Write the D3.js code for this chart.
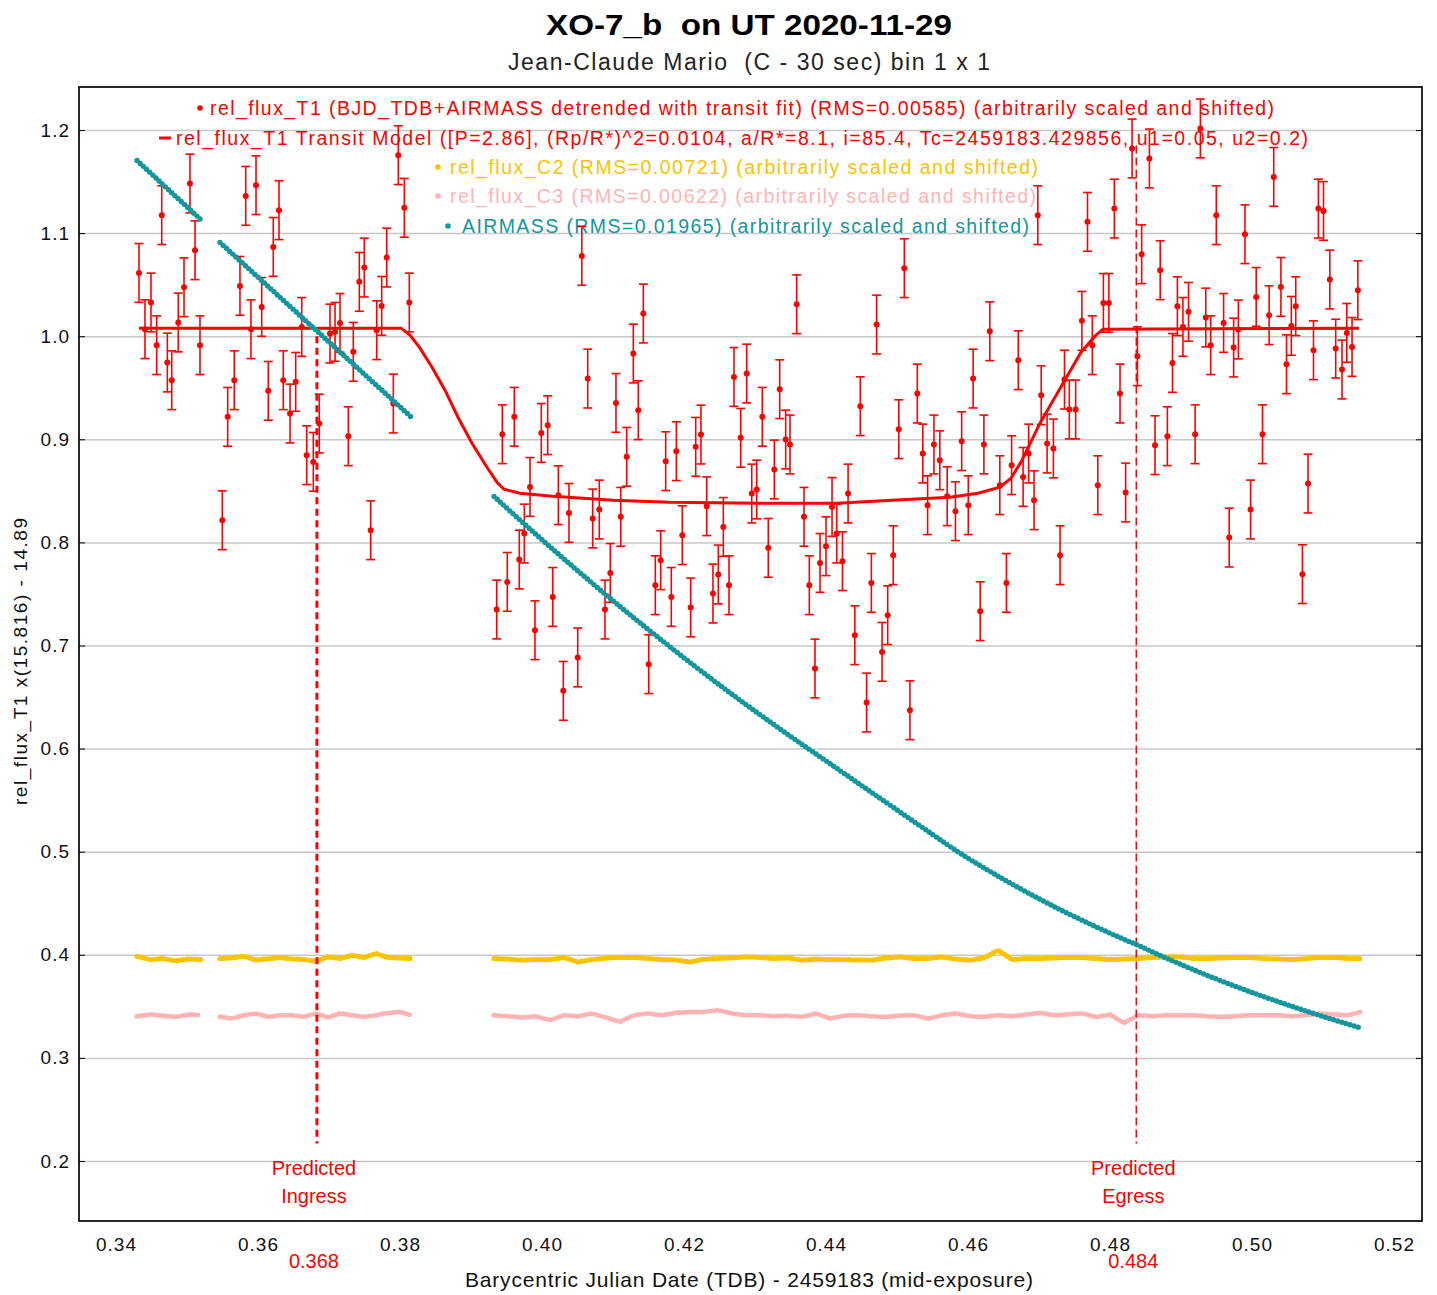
<!DOCTYPE html>
<html>
<head>
<meta charset="utf-8">
<script src="https://cdn.jsdelivr.net/npm/d3@7"></script>
<style>
  body { margin: 0; background: #fff; }
  svg { display: block; font-family: "Liberation Sans", Arial, sans-serif; }
</style>
</head>
<body>
<svg id="chart"></svg>
<script>
// ---- data ----
var xTicks = [0.34, 0.36, 0.38, 0.40, 0.42, 0.44, 0.46, 0.48, 0.50, 0.52];
var yTicks = [0.2, 0.3, 0.4, 0.5, 0.6, 0.7, 0.8, 0.9, 1.0, 1.1, 1.2];

var ingressT = 0.3683, egressT = 0.4837;
var ingressLabel = "0.368", egressLabel = "0.484";

// rel_flux_T1 [BJD - 2459183, scaled flux]
var T1_ERR = 0.0285;
var t1 = [
  [0.34324,1.0614],[0.34408,1.0068],[0.34493,1.0327],[0.34573,0.9913],[0.34644,1.1174],[0.34723,0.9745],
  [0.34785,0.9573],[0.34877,1.0133],[0.34958,1.0475],[0.35042,1.1481],[0.35113,1.0834],[0.35183,0.9913],
  [0.35497,0.8215],[0.35573,0.9218],[0.35666,0.9573],[0.35746,1.0488],[0.35827,1.1361],[0.35901,1.0068],
  [0.35972,1.1465],[0.36052,1.0284],[0.36145,0.9470],[0.36215,1.0866],[0.36296,1.1222],[0.36356,0.9573],
  [0.36451,0.9250],[0.36531,0.9557],[0.36616,1.0090],[0.36686,0.8846],[0.36779,0.8781],[0.36863,0.9153],
  [0.37014,1.0026],[0.37085,1.0042],[0.37155,1.0129],[0.37272,0.9030],[0.37342,0.9848],[0.37427,1.0527],
  [0.37497,1.0666],[0.37587,0.8118],[0.37672,1.0058],[0.37742,1.0294],[0.37813,1.0763],[0.37906,0.9347],
  [0.37976,1.1756],[0.38061,1.1245],[0.38131,1.0327],
  [0.39362,0.7349],[0.39441,0.9049],[0.39511,0.7617],[0.39610,0.9218],[0.39680,0.7834],[0.39751,0.8086],
  [0.39831,0.8538],[0.39901,0.7148],[0.39990,0.9062],[0.40080,0.9137],[0.40151,0.7471],[0.40230,0.8458],
  [0.40300,0.6560],[0.40380,0.8286],[0.40503,0.6884],[0.40561,1.0779],[0.40644,0.9589],[0.40714,0.8232],
  [0.40807,0.8319],[0.40887,0.7349],[0.40962,0.7704],[0.41042,0.9353],[0.41109,0.8248],[0.41193,0.8830],
  [0.41286,0.9832],[0.41356,0.9282],[0.41427,1.0220],[0.41503,0.6819],[0.41596,0.7585],[0.41672,0.7827],
  [0.41742,0.8788],[0.41821,0.7471],[0.41892,0.8885],[0.41976,0.8070],[0.42094,0.7369],[0.42165,0.8927],
  [0.42239,0.9046],[0.42320,0.8351],[0.42408,0.7504],[0.42483,0.7689],[0.42554,0.8150],[0.42634,0.7585],
  [0.42704,0.9605],[0.42799,0.9014],[0.42883,0.9638],[0.42954,0.8474],[0.43024,0.8513],[0.43103,0.9218],
  [0.43187,0.7947],[0.43272,0.8707],[0.43348,0.9486],[0.43432,0.8998],[0.43493,0.8950],[0.43587,1.0310],
  [0.43690,0.8248],[0.43765,0.7585],[0.43845,0.6777],[0.43916,0.7801],[0.44000,0.7963],[0.44085,0.8344],
  [0.44151,0.8086],[0.44232,0.7818],[0.44311,0.8474],[0.44406,0.7100],[0.44483,0.9321],[0.44572,0.6447],
  [0.44639,0.7607],[0.44713,1.0113],[0.44790,0.6938],[0.44869,0.7294],[0.44947,0.7876],[0.45025,0.9098],
  [0.45103,1.0660],[0.45182,0.6372],[0.45286,0.9444],[0.45363,0.8862],[0.45431,0.8361],[0.45520,0.8950],
  [0.45603,0.8797],[0.45707,0.8448],[0.45823,0.8303],[0.45911,0.8982],[0.46004,0.8361],[0.46072,0.9589],
  [0.46172,0.7333],[0.46224,0.8950],[0.46307,1.0048],[0.46448,0.8555],[0.46541,0.7607],[0.46614,0.8749],
  [0.46708,0.9767],[0.46776,0.8635],[0.46854,0.8862],[0.46930,0.8409],[0.46983,1.1174],[0.47031,0.9428],
  [0.47114,0.8959],[0.47203,0.8911],[0.47297,0.7876],[0.47359,0.9579],[0.47427,0.9289],[0.47516,0.9289],
  [0.47604,1.0149],[0.47683,1.1109],[0.47751,0.9913],[0.47828,0.8555],[0.47907,1.0323],[0.47984,1.0323],
  [0.48061,1.1238],[0.48141,0.9444],[0.48220,0.8484],[0.48311,1.1821],[0.48386,0.9806],[0.48446,1.0795],
  [0.48555,1.1724],[0.48634,0.8943],[0.48707,1.0640],[0.48808,0.9030],[0.48880,0.9741],[0.48949,1.0291],
  [0.49027,1.0090],[0.49106,1.0236],[0.49199,0.9049],[0.49273,1.2015],[0.49349,1.0181],[0.49418,0.9913],
  [0.49497,1.1174],[0.49600,1.0129],[0.49679,0.8047],[0.49741,0.9890],[0.49808,1.0065],[0.49901,1.0989],
  [0.49980,0.8319],[0.50059,1.0381],[0.50148,0.9049],[0.50241,1.0204],[0.50306,1.1545],[0.50407,1.0478],
  [0.50486,0.9728],[0.50554,1.0100],[0.50616,1.0291],[0.50710,0.7692],[0.50789,0.8571],[0.50866,0.9864],
  [0.50935,1.1238],[0.51007,1.1215],[0.51096,1.0550],[0.51179,0.9880],[0.51268,0.9677],[0.51335,1.0032],
  [0.51409,0.9896],[0.51491,1.0446]
];

// transit model curve
var model = [
  [0.34324,1.0078],[0.38014,1.0078],[0.38141,1.0010],[0.38282,0.9884],[0.38451,0.9699],[0.38634,0.9476],
  [0.38817,0.9214],[0.39014,0.8962],[0.39225,0.8729],[0.39366,0.8584],[0.39465,0.8516],[0.39690,0.8477],
  [0.40155,0.8448],[0.41000,0.8409],[0.41803,0.8390],[0.43070,0.8380],[0.44155,0.8380],[0.44930,0.8409],
  [0.45746,0.8438],[0.46141,0.8477],[0.46451,0.8535],[0.46606,0.8623],[0.46761,0.8797],[0.47014,0.9156],
  [0.47282,0.9476],[0.47592,0.9845],[0.47803,1.0010],[0.47901,1.0068],[0.51507,1.0078]
];

// comparison stars and airmass, read at these times
var refTime = [
  0.34296,0.34479,0.34662,0.34845,0.35028,0.35197,
  0.35465,0.35634,0.35803,0.35972,0.36141,0.36310,0.36479,0.36648,0.36817,0.36986,0.37155,0.37324,
  0.37493,0.37662,0.37831,0.38000,0.38155,
  0.39324,0.39521,0.39718,0.39915,0.40113,0.40310,0.40507,0.40704,0.40901,0.41099,0.41296,0.41493,
  0.41690,0.41887,0.42085,0.42282,0.42479,0.42676,0.42873,0.43070,0.43268,0.43465,0.43662,0.43859,
  0.44056,0.44254,0.44451,0.44648,0.44845,0.45042,0.45239,0.45437,0.45634,0.45831,0.46028,0.46225,
  0.46423,0.46620,0.46817,0.47014,0.47211,0.47408,0.47606,0.47803,0.48000,0.48197,0.48394,0.48592,
  0.48789,0.48986,0.49183,0.49380,0.49577,0.49775,0.49972,0.50169,0.50366,0.50563,0.50761,0.50958,
  0.51155,0.51352,0.51521
];
var c2Flux = [
  0.3986,0.3954,0.3964,0.3941,0.3960,0.3954,
  0.3964,0.3970,0.3986,0.3950,0.3962,0.3974,0.3960,0.3954,0.3938,0.3980,0.3964,0.3996,
  0.3974,0.4013,0.3974,0.3968,0.3964,
  0.3964,0.3958,0.3948,0.3954,0.3954,0.3974,0.3931,0.3954,0.3968,0.3974,0.3974,0.3964,
  0.3954,0.3950,0.3931,0.3958,0.3964,0.3970,0.3980,0.3974,0.3964,0.3970,0.3948,0.3958,
  0.3954,0.3954,0.3950,0.3948,0.3970,0.3980,0.3964,0.3964,0.3980,0.3958,0.3948,0.3970,
  0.4045,0.3954,0.3964,0.3964,0.3970,0.3974,0.3974,0.3964,0.3954,0.3960,0.3964,0.3974,
  0.3980,0.3980,0.3964,0.3964,0.3970,0.3974,0.3974,0.3964,0.3960,0.3954,0.3964,0.3974,
  0.3974,0.3964,0.3964
];
var c3Flux = [
  0.3404,0.3421,0.3410,0.3398,0.3421,0.3414,
  0.3398,0.3382,0.3414,0.3431,0.3398,0.3414,0.3414,0.3398,0.3431,0.3392,0.3431,0.3414,
  0.3398,0.3414,0.3437,0.3446,0.3414,
  0.3414,0.3404,0.3392,0.3404,0.3366,0.3414,0.3404,0.3431,0.3392,0.3350,0.3414,0.3431,
  0.3414,0.3437,0.3446,0.3446,0.3463,0.3431,0.3414,0.3414,0.3404,0.3410,0.3398,0.3431,
  0.3382,0.3410,0.3414,0.3404,0.3398,0.3410,0.3414,0.3382,0.3414,0.3431,0.3404,0.3398,
  0.3414,0.3404,0.3420,0.3437,0.3414,0.3421,0.3431,0.3398,0.3420,0.3340,0.3414,0.3404,
  0.3414,0.3410,0.3414,0.3404,0.3398,0.3404,0.3414,0.3414,0.3414,0.3404,0.3414,0.3431,
  0.3421,0.3414,0.3446
];
var airmass = [
  1.1704,1.1588,1.1470,1.1353,1.1237,1.1128,
  1.0909,1.0802,1.0696,1.0590,1.0484,1.0377,1.0272,1.0165,1.0059,0.9953,0.9846,0.9740,
  0.9634,0.9528,0.9422,0.9315,0.9217,
  0.8446,0.8322,0.8199,0.8078,0.7957,0.7839,0.7722,0.7606,0.7492,0.7378,0.7267,0.7157,
  0.7049,0.6941,0.6835,0.6731,0.6628,0.6527,0.6427,0.6329,0.6232,0.6136,0.6041,0.5948,
  0.5854,0.5760,0.5666,0.5572,0.5479,0.5385,0.5291,0.5198,0.5104,0.5011,0.4924,0.4843,
  0.4763,0.4686,0.4611,0.4538,0.4468,0.4400,0.4335,0.4271,0.4209,0.4150,0.4093,0.4030,
  0.3969,0.3910,0.3853,0.3797,0.3744,0.3692,0.3642,0.3593,0.3546,0.3500,0.3455,0.3411,
  0.3368,0.3327,0.3293
];

var legendText = [
  "rel_flux_T1 (BJD_TDB+AIRMASS detrended with transit fit) (RMS=0.00585) (arbitrarily scaled and shifted)",
  "rel_flux_T1 Transit Model ([P=2.86], (Rp/R*)^2=0.0104, a/R*=8.1, i=85.4, Tc=2459183.429856, u1=0.05, u2=0.2)",
  "rel_flux_C2 (RMS=0.00721) (arbitrarily scaled and shifted)",
  "rel_flux_C3 (RMS=0.00622) (arbitrarily scaled and shifted)",
  "AIRMASS (RMS=0.01965) (arbitrarily scaled and shifted)"
];

// ---- layout ----
var W = 1437, H = 1295;
var frame = {left: 79, top: 87, right: 1422, bottom: 1221};
var RED = "#ff0000", C2COL = "#f9c300", C3COL = "#ffb3b3", TEAL = "#13969c";

var x = d3.scaleLinear().domain([0.34, 0.52]).range([116, 1394]);
var y = d3.scaleLinear().domain([0.2, 1.2]).range([1161, 130]);

var svg = d3.select("#chart").attr("width", W).attr("height", H);

// title
svg.append("text")
    .attr("x", 546).attr("y", 35)
    .attr("textLength", 406).attr("lengthAdjust", "spacingAndGlyphs")
    .style("white-space", "pre")
    .style("font-size", "29px").style("font-weight", "bold")
    .text("XO-7_b  on UT 2020-11-29");

svg.append("text")
    .attr("x", 508).attr("y", 70)
    .attr("textLength", 482).attr("lengthAdjust", "spacing")
    .style("white-space", "pre")
    .style("font-size", "23px").style("fill", "#222")
    .text("Jean-Claude Mario  (C - 30 sec) bin 1 x 1");

// grid lines
svg.append("g")
    .attr("transform", "translate(" + frame.left + ",0)")
    .call(d3.axisLeft(y).tickValues(yTicks).tickSize(-(frame.right - frame.left)).tickFormat(""))
    .call(function(g) { g.select(".domain").remove(); })
    .selectAll("line").attr("stroke", "#c8c8c8").attr("stroke-width", 1.5);

// y tick labels
svg.append("g")
    .attr("transform", "translate(" + frame.left + ",0)")
    .call(d3.axisLeft(y).tickValues(yTicks).tickSize(0).tickPadding(9).tickFormat(d3.format(".1f")))
    .call(function(g) { g.select(".domain").remove(); })
    .selectAll("text").style("font-size", "19px").style("font-family", "Liberation Sans, Arial, sans-serif")
    .attr("fill", "#111").attr("letter-spacing", "1px");

// inner tick marks on both vertical edges
svg.append("g")
    .attr("transform", "translate(" + frame.left + ",0)")
    .call(d3.axisRight(y).tickValues(yTicks).tickSize(6).tickFormat(""))
    .call(function(g) { g.select(".domain").remove(); });
svg.append("g")
    .attr("transform", "translate(" + frame.right + ",0)")
    .call(d3.axisLeft(y).tickValues(yTicks).tickSize(6).tickFormat(""))
    .call(function(g) { g.select(".domain").remove(); });

// x tick labels
svg.append("g")
    .attr("transform", "translate(0," + frame.bottom + ")")
    .call(d3.axisBottom(x).tickValues(xTicks).tickSize(0).tickPadding(17).tickFormat(d3.format(".2f")))
    .call(function(g) { g.select(".domain").remove(); })
    .selectAll("text").style("font-size", "19px").style("font-family", "Liberation Sans, Arial, sans-serif")
    .attr("fill", "#111").attr("letter-spacing", "1px");

// axis titles
svg.append("text")
    .attr("x", 465).attr("y", 1287)
    .attr("textLength", 568).attr("lengthAdjust", "spacing")
    .style("font-size", "21px").style("fill", "#111")
    .text("Barycentric Julian Date (TDB) - 2459183 (mid-exposure)");

svg.append("text")
    .attr("transform", "translate(27,805) rotate(-90)")
    .attr("textLength", 287).attr("lengthAdjust", "spacing")
    .style("font-size", "19px").style("fill", "#111")
    .text("rel_flux_T1 x(15.816) - 14.89");

// legend
var legendRows = [
  {y: 108, tx: 210, len: 1064, col: RED, mark: "dot", mx: 200},
  {y: 138, tx: 176, len: 1132, col: RED, mark: "bar", mx: 159},
  {y: 167, tx: 450, len: 588, col: C2COL, mark: "dot", mx: 438},
  {y: 196, tx: 450, len: 586, col: C3COL, mark: "dot", mx: 438},
  {y: 226, tx: 462, len: 567, col: TEAL, mark: "dot", mx: 448}
];
var leg = svg.append("g").attr("class", "legend");
legendRows.forEach(function(r, i) {
  if (r.mark === "dot") {
    leg.append("circle").attr("cx", r.mx).attr("cy", r.y).attr("r", 2.8).attr("fill", r.col);
  } else {
    leg.append("line").attr("x1", r.mx).attr("x2", r.mx + 12).attr("y1", r.y).attr("y2", r.y)
        .attr("stroke", r.col).attr("stroke-width", 3);
  }
  leg.append("text")
      .attr("x", r.tx).attr("y", r.y).attr("dy", "0.36em")
      .attr("textLength", r.len).attr("lengthAdjust", "spacing")
      .style("font-size", "19.5px").style("fill", r.col)
      .text(legendText[i]);
});

// split a series where the observing gaps are
function segments(times, vals) {
  var segs = [], cur = [];
  times.forEach(function(t, i) {
    if (i > 0 && t - times[i - 1] > 0.0023) { segs.push(cur); cur = []; }
    cur.push([t, vals[i]]);
  });
  segs.push(cur);
  return segs;
}

var line = d3.line().x(function(d) { return x(d[0]); }).y(function(d) { return y(d[1]); });

function beads(cls, vals, col, w, gap) {
  svg.selectAll("." + cls)
      .data(segments(refTime, vals))
      .enter().append("path")
      .attr("class", cls)
      .attr("d", line)
      .attr("fill", "none")
      .attr("stroke", col)
      .attr("stroke-width", w)
      .attr("stroke-linecap", "round")
      .attr("stroke-dasharray", "0 " + gap);
}

beads("c2", c2Flux, C2COL, 5.2, 3.4);
beads("c3", c3Flux, C3COL, 5, 3.4);

// predicted ingress / egress
function marker(t, top, width, dash, label) {
  svg.append("line")
      .attr("x1", x(t)).attr("x2", x(t))
      .attr("y1", y(top)).attr("y2", y(0.217))
      .attr("stroke", RED).attr("stroke-width", width)
      .attr("stroke-dasharray", dash);
  var g = svg.append("g").style("fill", RED).style("font-size", "20px").attr("text-anchor", "middle");
  g.append("text").attr("x", x(t) - 3).attr("y", 1175).text("Predicted");
  g.append("text").attr("x", x(t) - 3).attr("y", 1203).text(label[0]);
  g.append("text").attr("x", x(t) - 3).attr("y", 1268).text(label[1]);
}
marker(ingressT, 1.0, 3, "7 4.5", ["Ingress", ingressLabel]);
marker(egressT, 1.185, 1.5, "8 4", ["Egress", egressLabel]);

// rel_flux_T1 with error bars
var pts = svg.append("g").attr("class", "t1");
var bars = pts.selectAll(".eb").data(t1).enter().append("g").attr("class", "eb")
    .attr("stroke", RED).attr("stroke-width", 1.6);
bars.append("line")
    .attr("x1", function(d) { return x(d[0]); }).attr("x2", function(d) { return x(d[0]); })
    .attr("y1", function(d) { return y(d[1] - T1_ERR); }).attr("y2", function(d) { return y(d[1] + T1_ERR); });
bars.append("line")
    .attr("x1", function(d) { return x(d[0]) - 4.5; }).attr("x2", function(d) { return x(d[0]) + 4.5; })
    .attr("y1", function(d) { return y(d[1] + T1_ERR); }).attr("y2", function(d) { return y(d[1] + T1_ERR); });
bars.append("line")
    .attr("x1", function(d) { return x(d[0]) - 4.5; }).attr("x2", function(d) { return x(d[0]) + 4.5; })
    .attr("y1", function(d) { return y(d[1] - T1_ERR); }).attr("y2", function(d) { return y(d[1] - T1_ERR); });
pts.selectAll(".dot").data(t1).enter().append("circle")
    .attr("class", "dot")
    .attr("cx", function(d) { return x(d[0]); })
    .attr("cy", function(d) { return y(d[1]); })
    .attr("r", 3)
    .attr("fill", RED);

// transit model
svg.append("path")
    .datum(model)
    .attr("d", line)
    .attr("fill", "none")
    .attr("stroke", RED)
    .attr("stroke-width", 3);

// airmass
beads("am", airmass, TEAL, 5.4, 4.3);

// frame
svg.append("rect")
    .attr("x", frame.left).attr("y", frame.top)
    .attr("width", frame.right - frame.left).attr("height", frame.bottom - frame.top)
    .attr("fill", "none").attr("stroke", "#111").attr("stroke-width", 1.8);
</script>
</body>
</html>
